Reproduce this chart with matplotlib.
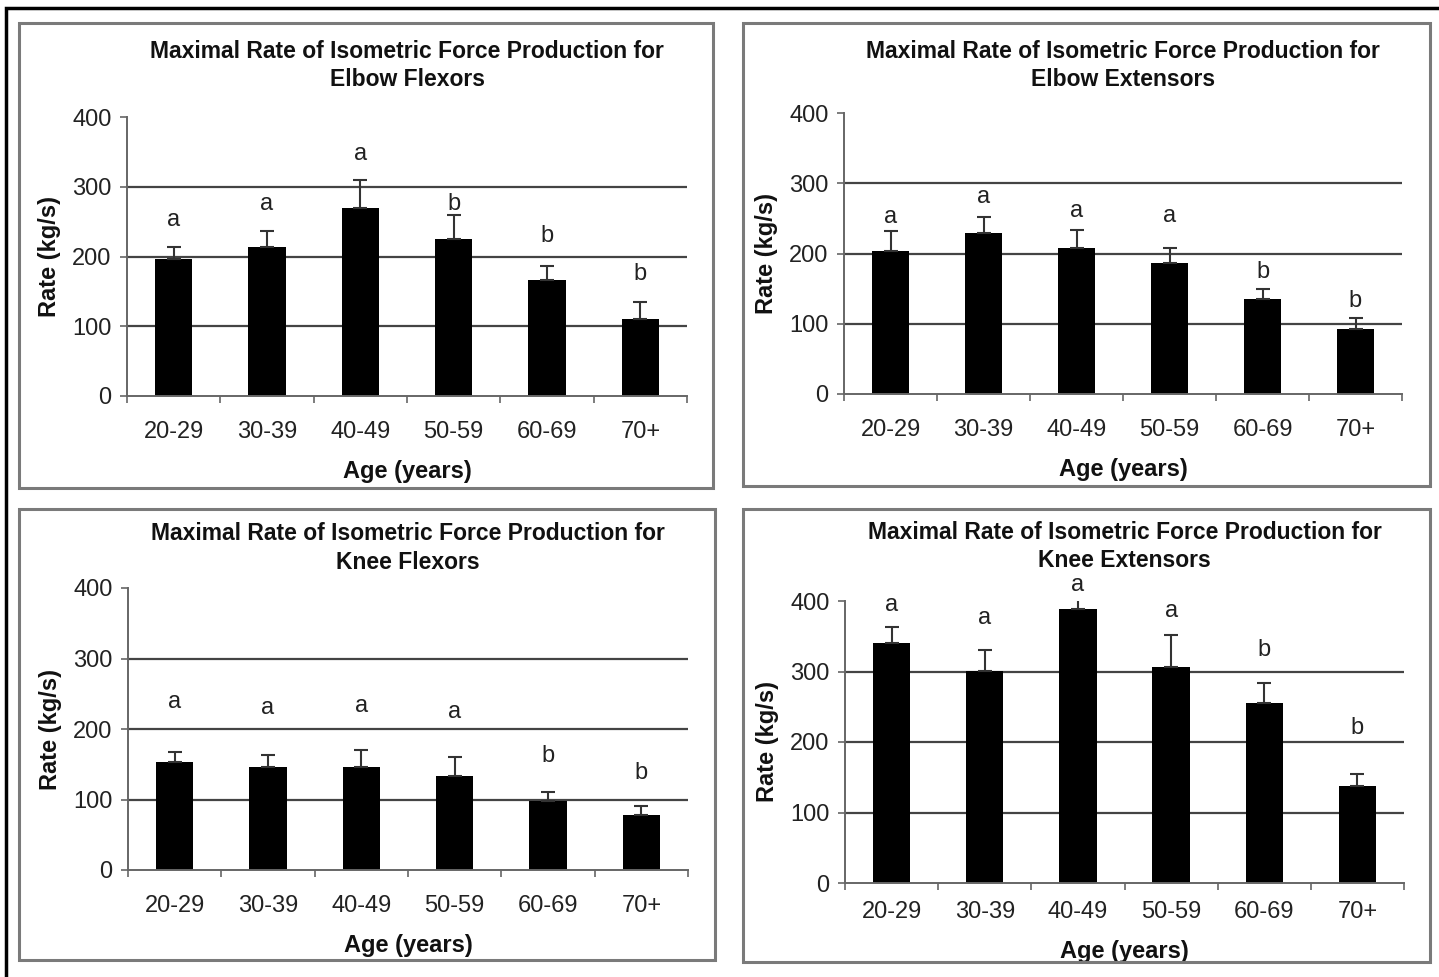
import matplotlib
matplotlib.use('Agg')
import matplotlib.pyplot as plt
from matplotlib.patches import Rectangle

plt.rcParams['font.family'] = ['Liberation Sans', 'DejaVu Sans']

# data
ages = ['20-29', '30-39', '40-49', '50-59', '60-69', '70+']

elbow_flex = [196, 214, 269, 225, 167, 111]
elbow_flex_err = [18, 22, 40, 34, 20, 24]
elbow_flex_letters = ['a', 'a', 'a', 'b', 'b', 'b']
elbow_flex_letter_y = [252, 275, 347, 275, 230, 175]

elbow_ext = [204, 229, 208, 187, 135, 92]
elbow_ext_err = [28, 23, 26, 21, 14, 16]
elbow_ext_letters = ['a', 'a', 'a', 'a', 'b', 'b']
elbow_ext_letter_y = [252, 280, 261, 253, 173, 133]

knee_flex = [153, 146, 146, 133, 98, 78]
knee_flex_err = [14, 17, 24, 27, 13, 13]
knee_flex_letters = ['a', 'a', 'a', 'a', 'b', 'b']
knee_flex_letter_y = [239, 230, 232, 224, 162, 137]

knee_ext = [341, 301, 388, 307, 255, 137]
knee_ext_err = [22, 30, 17, 45, 29, 18]
knee_ext_letters = ['a', 'a', 'a', 'a', 'b', 'b']
knee_ext_letter_y = [394, 376, 422, 386, 330, 220]

titles = ['Maximal Rate of Isometric Force Production for\nElbow Flexors',
          'Maximal Rate of Isometric Force Production for\nElbow Extensors',
          'Maximal Rate of Isometric Force Production for\nKnee Flexors',
          'Maximal Rate of Isometric Force Production for\nKnee Extensors']

yticks = [0, 100, 200, 300, 400]

W, H = 1439, 977
fig = plt.figure(figsize=(W / 100, H / 100), dpi=100)

def px_rect(x0, y0, x1, y1):
    # pixel box (from top-left) -> figure fraction [left, bottom, width, height]
    return [x0 / W, 1 - y1 / H, (x1 - x0) / W, (y1 - y0) / H]

# axes placement (pixels) and surrounding gray frames
axes_px = [(127, 117, 687, 396), (844, 113, 1402, 394),
           (128, 588, 688, 870), (845, 601, 1404, 883)]
frames_px = [(19, 23, 713, 488), (743, 23, 1430, 486),
             (19, 509, 715, 960), (743, 509, 1430, 962)]
title_pads = [22, 19.5, 14, 24.5]
xtick_pads = [18, 18, 18, 13]

panels = [
    (elbow_flex, elbow_flex_err, elbow_flex_letters, elbow_flex_letter_y),
    (elbow_ext, elbow_ext_err, elbow_ext_letters, elbow_ext_letter_y),
    (knee_flex, knee_flex_err, knee_flex_letters, knee_flex_letter_y),
    (knee_ext, knee_ext_err, knee_ext_letters, knee_ext_letter_y),
]

# outer black border (left and top visible)
fig.add_artist(Rectangle((6 / W, -0.05), 1.2, 1 - 8 / H + 0.05, transform=fig.transFigure,
                         fill=False, edgecolor='black', linewidth=2.5))

for i, (vals, errs, letters, letter_y) in enumerate(panels):
    fx0, fy0, fx1, fy1 = frames_px[i]
    fig.add_artist(Rectangle((fx0 / W, 1 - fy1 / H), (fx1 - fx0) / W, (fy1 - fy0) / H,
                             transform=fig.transFigure, fill=False,
                             edgecolor='#7a7a7a', linewidth=2.2))

    ax = fig.add_axes(px_rect(*axes_px[i]))
    x = list(range(len(ages)))
    for y in yticks[1:-1]:
        ax.axhline(y, color='#444444', linewidth=1.6, zorder=1)
    ax.bar(x, vals, width=0.4, color='black', zorder=2)
    ax.errorbar(x, vals, yerr=[[0] * len(errs), errs], fmt='none', ecolor='#333333',
                elinewidth=1.5, capsize=5, capthick=1.5, zorder=3)
    for xi, lab, ly in zip(x, letters, letter_y):
        ax.text(xi, ly, lab, ha='center', va='center', fontsize=17, color='#222222')

    ax.set_xlim(-0.5, len(ages) - 0.5)
    ax.set_ylim(0, 400)
    ax.set_yticks(yticks)
    ax.set_xticks(x)
    ax.set_xticklabels(ages)
    ax.set_xticks([k - 0.5 for k in range(len(ages) + 1)], minor=True)
    ax.tick_params(axis='x', which='major', length=0, pad=xtick_pads[i], labelsize=17,
                   labelcolor='#222222')
    ax.tick_params(axis='x', which='minor', length=5, width=1.2, color='#666666', direction='out')
    ax.tick_params(axis='y', length=5, width=1.2, color='#666666', pad=6, labelsize=17,
                   labelcolor='#222222')
    for s in ['top', 'right']:
        ax.spines[s].set_visible(False)
    for s in ['left', 'bottom']:
        ax.spines[s].set_color('#666666')
        ax.spines[s].set_linewidth(1.4)
    ax.set_xlabel('Age (years)', fontsize=17, fontweight='bold', labelpad=12, color='#111111')
    ax.set_ylabel('Rate (kg/s)', fontsize=17, fontweight='bold', labelpad=8, color='#111111')
    ax.set_title(titles[i], fontsize=16.5, fontweight='bold', pad=title_pads[i],
                 linespacing=1.3, color='#111111')

fig.savefig('out.png', dpi=100, facecolor='white')
